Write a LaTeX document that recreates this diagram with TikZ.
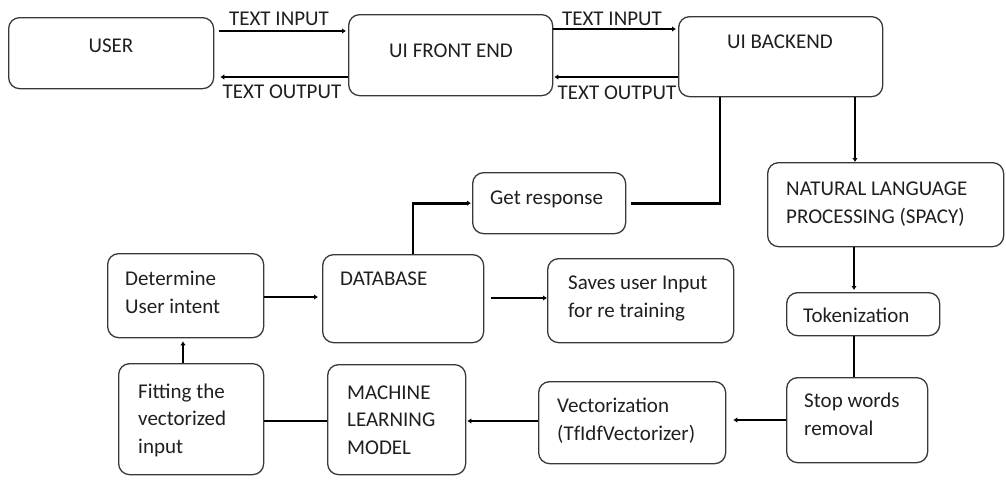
\documentclass[tikz,border=0pt]{standalone}
\usepackage{fontspec}
\setmainfont{Carlito}
\usetikzlibrary{arrows.meta}
\begin{document}
\begin{tikzpicture}[x=1pt,y=-1pt,
  box/.style={draw=black!78, line width=1.3pt, rounded corners=11pt,
              inner sep=0pt, anchor=north west},
  txt/.style={font=\fontsize{21}{27.5}\selectfont, inner sep=0pt, align=left,
              anchor=base west, text=black!88},
  ctxt/.style={txt, anchor=base, align=center},
  conn/.style={line width=2.7pt, black},
  arr/.style={conn, -{Latex[length=4pt,width=5.5pt]}}]
\useasboundingbox (0,0) rectangle (1006,479);

% boxes
\node[box, minimum width=205pt, minimum height=71pt]  (user)  at (8,17) {};
\node[box, minimum width=204pt, minimum height=81pt]  (front) at (348,14) {};
\node[box, minimum width=204pt, minimum height=80pt]  (back)  at (678,16) {};
\node[box, minimum width=236pt, minimum height=84pt]  (nlp)   at (767,162) {};
\node[box, minimum width=153pt, minimum height=43pt]  (tok)   at (786,292) {};
\node[box, minimum width=141pt, minimum height=85pt]  (stop)  at (786,377) {};
\node[box, minimum width=187pt, minimum height=82pt]  (vec)   at (538,381) {};
\node[box, minimum width=138pt, minimum height=110pt] (ml)    at (327,364) {};
\node[box, minimum width=145pt, minimum height=111pt] (fit)   at (118,363) {};
\node[box, minimum width=156pt, minimum height=84pt]  (det)   at (107,253) {};
\node[box, minimum width=161pt, minimum height=88pt]  (db)    at (322,254) {};
\node[box, minimum width=186pt, minimum height=84pt]  (save)  at (547,258) {};
\node[box, minimum width=153pt, minimum height=61pt]  (get)   at (472,172) {};

% box texts (multi-line nodes are placed by the baseline of their last line)
\node[ctxt] (t-user)  at (111,52) {USER};
\node[ctxt] (t-front) at (451,57) {UI FRONT END};
\node[ctxt] (t-back)  at (780,48) {UI BACKEND};
\node[txt]  (t-nlp)   at (786,223) {NATURAL LANGUAGE\\PROCESSING (SPACY)};
\node[txt]  (t-tok)   at (803,322) {Tokenization};
\node[txt]  (t-stop)  at (804,435) {Stop words\\removal};
\node[txt]  (t-vec)   at (557,440) {Vectorization\\(TfIdfVectorizer)};
\node[txt]  (t-ml)    at (347,454) {MACHINE\\LEARNING\\MODEL};
\node[txt]  (t-fit)   at (138,453) {Fitting the\\vectorized\\input};
\node[txt]  (t-det)   at (125,313) {Determine\\User intent};
\node[txt]  (t-db)    at (340,285) {DATABASE};
\node[txt]  (t-save)  at (568,317) {Saves user Input\\for re training};
\node[txt]  (t-get)   at (490,204) {Get response};

% connector labels
\node[ctxt] (l-in1)  at (279,25) {TEXT INPUT};
\node[ctxt] (l-out1) at (282,98) {TEXT OUTPUT};
\node[ctxt] (l-in2)  at (612,25) {TEXT INPUT};
\node[ctxt] (l-out2) at (617,99) {TEXT OUTPUT};

% connectors
\draw[arr, shorten <=5pt, shorten >=2pt] (user.east |- 0,31) -- (front.west |- 0,31);
\draw[arr, shorten >=6pt] (front.west |- 0,77) -- (user.east |- 0,77);
\draw[arr, shorten >=2pt] (front.east |- 0,29) -- (back.west |- 0,29);
\draw[arr, shorten >=1pt] (back.west |- 0,77) -- (front.east |- 0,77);
\draw[conn, shorten >=5pt] (back.south -| 720,0) |- (get.east);
\draw[arr] (back.south -| 855,0) -- (nlp.north -| 855,0);
\draw[arr, shorten >=2pt] (nlp.south -| 854,0) -- (tok.north -| 854,0);
\draw[conn] (tok.south -| 854,0) -- (stop.north -| 854,0);
\draw[arr, shorten >=7pt] (stop.west |- 0,420) -- (vec.east |- 0,420);
\draw[arr, shorten >=1pt] (vec.west |- 0,421) -- (ml.east |- 0,421);
\draw[conn] (ml.west |- 0,421) -- (fit.east |- 0,421);
\draw[arr, shorten >=3pt] (fit.north -| 183,0) -- (det.south -| 183,0);
\draw[arr, shorten >=4pt] (det.east |- 0,297) -- (db.west |- 0,297);
\draw[arr, shorten <=7pt] (db.east |- 0,298) -- (save.west |- 0,298);
\draw[arr, shorten >=1pt] (db.north -| 413,0) |- (get.west);
\end{tikzpicture}
\end{document}
